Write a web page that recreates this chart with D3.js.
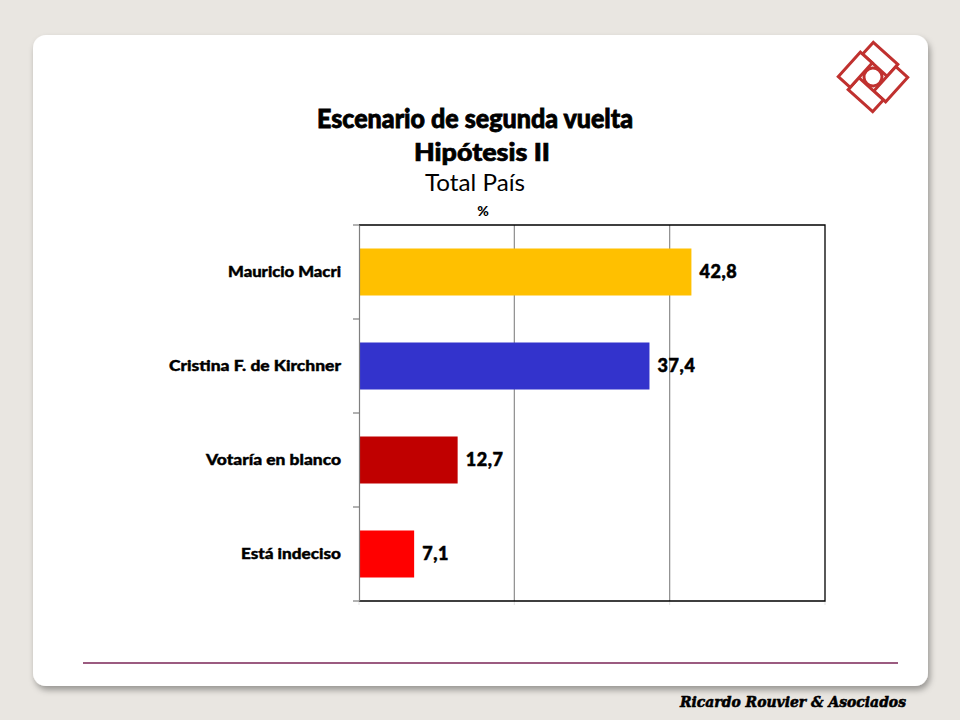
<!DOCTYPE html>
<html>
<head>
<meta charset="utf-8">
<script src="https://cdn.jsdelivr.net/npm/d3@7"></script>
<style>
  body { margin: 0; background: #e9e6e1; }
  svg { display: block; }
</style>
</head>
<body>
<div id="chart"></div>
<script>
// chart values
var categories = ["Mauricio Macri", "Cristina F. de Kirchner", "Votaría en blanco", "Está indeciso"],
    values = [42.8, 37.4, 12.7, 7.1],
    barColors = ["#ffc000", "#3333cc", "#c00000", "#ff0000"],
    xTicks = [0, 20, 40, 60],
    titleLines = ["Escenario de segunda vuelta", "Hipótesis II", "Total País"];

// label widths measured on the slide (heavy Calibri-like face)
var labelWidths = [113, 172, 135, 100];

var W = 960, H = 720,
    plot = { left: 359, top: 225, right: 825, bottom: 601 },
    font = 'Lato, "Open Sans", sans-serif';

var svg = d3.select('#chart').append('svg')
    .attr('width', W).attr('height', H);

var defs = svg.append('defs');
var shadow = defs.append('filter').attr('id', 'shadow')
    .attr('x', '-5%').attr('y', '-5%').attr('width', '110%').attr('height', '112%');
shadow.append('feDropShadow')
    .attr('dx', 2).attr('dy', 4).attr('stdDeviation', 3)
    .attr('flood-color', '#000').attr('flood-opacity', 0.35);

// slide panel
svg.append('rect')
    .attr('x', 33).attr('y', 35).attr('width', 895).attr('height', 651)
    .attr('rx', 13).attr('fill', '#fff')
    .attr('filter', 'url(#shadow)');

// logo: pinwheel of four frames round a ring
var c = 10, b = 16, L = 33;
var logo = svg.append('g')
    .attr('transform', 'translate(873,77) rotate(42)')
    .attr('fill', '#fff').attr('stroke', '#c0312f').attr('stroke-width', 3);
[[c - L, -c - b, L, b], [c, c - L, b, L], [-c, c, L, b], [-c - b, -c, b, L]].forEach(function(r) {
  logo.append('rect')
      .attr('x', r[0]).attr('y', r[1]).attr('width', r[2]).attr('height', r[3]);
});
logo.append('circle').attr('cx', 0).attr('cy', 0).attr('r', 9);

// titles
var title = svg.append('g').attr('text-anchor', 'middle').attr('fill', '#000')
    .style('font-family', font);
title.append('text').attr('x', 475).attr('y', 128)
    .attr('textLength', 316).attr('lengthAdjust', 'spacingAndGlyphs')
    .attr('stroke', '#000').attr('stroke-width', 0.8)
    .style('font-size', '26px').style('font-weight', 900).text(titleLines[0]);
title.append('text').attr('x', 482).attr('y', 161)
    .attr('textLength', 136).attr('lengthAdjust', 'spacingAndGlyphs')
    .attr('stroke', '#000').attr('stroke-width', 0.7)
    .style('font-size', '24px').style('font-weight', 900).text(titleLines[1]);
title.append('text').attr('x', 475).attr('y', 191)
    .attr('textLength', 100).attr('lengthAdjust', 'spacingAndGlyphs')
    .style('font-size', '23px').style('font-weight', 400).text(titleLines[2]);
title.append('text').attr('x', 483).attr('y', 216)
    .style('font-size', '14px').style('font-weight', 900).text('%');

// scales
var x = d3.scaleLinear().domain([0, 60]).range([plot.left, plot.right]);
var y = d3.scaleBand().domain(categories).range([plot.top, plot.bottom])
    .paddingInner(0.5).paddingOuter(0.25);

// grid lines
svg.append('g').selectAll('line').data(xTicks.slice(1, -1)).enter().append('line')
    .attr('x1', function(d) { return x(d); }).attr('x2', function(d) { return x(d); })
    .attr('y1', plot.top).attr('y2', plot.bottom)
    .attr('stroke', '#8c8c8c').attr('stroke-width', 1.2);

// faint ticks under the plot
svg.append('g').selectAll('line').data(xTicks).enter().append('line')
    .attr('x1', function(d) { return x(d); }).attr('x2', function(d) { return x(d); })
    .attr('y1', plot.bottom).attr('y2', plot.bottom + 4)
    .attr('stroke', '#e2e2e2');

// bars
svg.append('g').selectAll('rect').data(values).enter().append('rect')
    .attr('x', x(0))
    .attr('y', function(d, i) { return y(categories[i]); })
    .attr('width', function(d) { return x(d) - x(0); })
    .attr('height', y.bandwidth())
    .attr('fill', function(d, i) { return barColors[i]; });

// value labels
svg.append('g').selectAll('text').data(values).enter().append('text')
    .attr('x', function(d) { return x(d) + 8; })
    .attr('y', function(d, i) { return y(categories[i]) + y.bandwidth() / 2; })
    .attr('dy', '0.36em')
    .attr('stroke', '#000').attr('stroke-width', 0.5)
    .style('font-family', font)
    .style('font-size', '18px').style('font-weight', 900)
    .style('letter-spacing', '0.6px')
    .text(function(d) { return d.toFixed(1).replace('.', ','); });

// frame: black top / right / bottom, grey left axis
svg.append('path')
    .attr('d', 'M' + plot.left + ',' + plot.top + 'H' + plot.right + 'V' + plot.bottom + 'H' + plot.left)
    .attr('fill', 'none').attr('stroke', '#000').attr('stroke-width', 1.3);

var yAxis = d3.axisLeft(y).tickSize(0).tickPadding(18);
var ga = svg.append('g').attr('transform', 'translate(' + plot.left + ',0)').call(yAxis);
ga.select('.domain').attr('stroke', '#7f7f7f').attr('stroke-width', 1.2);
ga.selectAll('text')
    .style('font-family', font)
    .style('font-size', '15px').style('font-weight', 900)
    .attr('fill', '#000').attr('stroke', '#000').attr('stroke-width', 0.4)
    .attr('textLength', function(d, i) { return labelWidths[i]; })
    .attr('lengthAdjust', 'spacingAndGlyphs');

// separator ticks between categories
var step = (plot.bottom - plot.top) / categories.length;
svg.append('g').selectAll('line').data(d3.range(categories.length + 1)).enter().append('line')
    .attr('x1', plot.left - 6).attr('x2', plot.left)
    .attr('y1', function(d) { return plot.top + d * step; })
    .attr('y2', function(d) { return plot.top + d * step; })
    .attr('stroke', '#7f7f7f').attr('stroke-width', 1.2);

// footer line and signature
svg.append('line')
    .attr('x1', 83).attr('x2', 898).attr('y1', 663).attr('y2', 663)
    .attr('stroke', '#7a2456').attr('stroke-width', 1.3);

svg.append('text')
    .attr('x', 906).attr('y', 707).attr('text-anchor', 'end')
    .attr('textLength', 226).attr('lengthAdjust', 'spacingAndGlyphs')
    .attr('stroke', '#000').attr('stroke-width', 0.6)
    .style('font-family', '"DejaVu Serif", serif')
    .style('font-size', '15px').style('font-weight', 'bold').style('font-style', 'italic')
    .attr('fill', '#000')
    .text('Ricardo Rouvier & Asociados');
</script>
</body>
</html>
